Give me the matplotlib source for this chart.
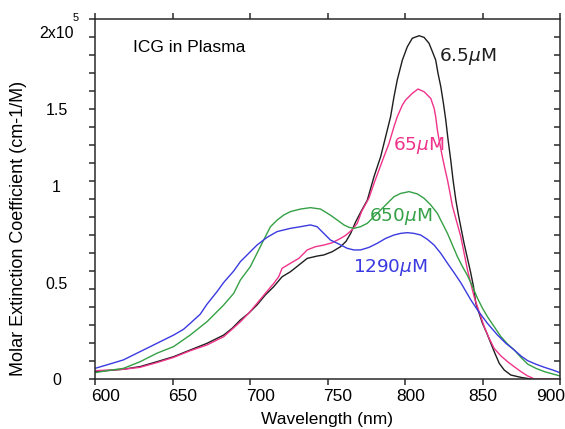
import numpy as np
import matplotlib
matplotlib.use("Agg")
import matplotlib.pyplot as plt

plt.rcParams['font.family'] = ['Liberation Sans', 'DejaVu Sans']

# values, y in units of 1e5 (cm-1/M)
nm_black = [600, 618.3, 629.1, 639.9, 650.7, 661.4, 672.2, 683, 688.4, 693.8, 699.1, 704.5,
            709.9, 715.3, 720.7, 726.1, 731.5, 736.9, 743.3, 747.6, 753, 758.4, 762, 765, 768,
            771, 773.5, 775.7, 780, 784.3, 787.5, 790.7, 792.9, 795, 798.3, 801.5, 804.7, 809.1,
            812.3, 815.5, 817.7, 819.8, 821.3, 823.1, 824.8, 826.3, 827.8, 829.5, 831, 832.8,
            834.5, 838.1, 842.4, 844.2, 845.7, 847.8, 850, 852.8, 855.4, 858, 860.8, 864, 868.3,
            874.8, 881.3]
eps_black = [0.041, 0.054, 0.069, 0.096, 0.124, 0.161, 0.198, 0.244, 0.281, 0.328, 0.365, 0.411,
             0.467, 0.513, 0.568, 0.596, 0.633, 0.670, 0.683, 0.689, 0.707, 0.735, 0.765, 0.810,
             0.870, 0.920, 0.960, 0.994, 1.124, 1.235, 1.346, 1.457, 1.568, 1.661, 1.772, 1.846,
             1.893, 1.907, 1.898, 1.865, 1.818, 1.772, 1.698, 1.624, 1.531, 1.439, 1.328, 1.217,
             1.106, 0.994, 0.910, 0.754, 0.590, 0.513, 0.420, 0.365, 0.309, 0.254, 0.198, 0.143,
             0.087, 0.050, 0.022, 0.009, 0.0]

nm_pink = [600, 618.3, 629.1, 639.9, 650.7, 661.4, 672.2, 683, 688.4, 693.8, 699.1, 704.5, 709.9,
           715.3, 718.5, 720.7, 726.1, 731.5, 736.9, 742.2, 747.6, 753, 758.4, 762, 766, 769.2,
           772, 774.5, 776.7, 780, 783.2, 786.4, 789.7, 792.9, 795, 798.3, 800.4, 804.7, 808.4,
           812.3, 816.6, 818.8, 819.8, 820.9, 822, 824.1, 825.7, 827.4, 828.9, 830.6, 836, 840.3,
           844.6, 847.8, 851.1, 854.3, 857.5, 861.9, 866.2, 870.5, 874.8, 879.1, 881.3, 883.4, 900]
eps_pink = [0.046, 0.054, 0.065, 0.091, 0.120, 0.157, 0.189, 0.235, 0.276, 0.318, 0.365, 0.420,
            0.476, 0.531, 0.568, 0.615, 0.643, 0.670, 0.717, 0.735, 0.744, 0.757, 0.781, 0.800,
            0.830, 0.865, 0.930, 0.970, 1.004, 1.087, 1.161, 1.235, 1.309, 1.402, 1.457, 1.522,
            1.550, 1.587, 1.611, 1.596, 1.559, 1.504, 1.457, 1.383, 1.328, 1.235, 1.170, 1.106,
            1.040, 0.960, 0.791, 0.606, 0.457, 0.374, 0.291, 0.226, 0.170, 0.128, 0.096, 0.068,
            0.041, 0.017, 0.009, 0.0, 0.0]

nm_green = [600, 607.5, 618.3, 629.1, 639.9, 650.7, 661.4, 672.2, 683, 689.5, 693.8, 700.2, 704.5,
            708.8, 713.2, 717.5, 721.8, 726.1, 732.5, 739, 745.5, 751.9, 756.3, 760.6, 763.8,
            767, 771.3, 775.7, 780, 784.3, 788.6, 792.9, 797.2, 802.6, 808, 812.3, 816.6, 820.9,
            824.1, 827.4, 830.6, 833.8, 837.1, 840.3, 843.5, 846.8, 850, 853.2, 857.5, 861.9,
            866.2, 870.5, 874.8, 879.1, 884.5, 889.9, 895.3, 900]
eps_green = [0.035, 0.046, 0.059, 0.096, 0.143, 0.180, 0.244, 0.318, 0.411, 0.476, 0.550, 0.624,
             0.698, 0.772, 0.846, 0.883, 0.911, 0.930, 0.944, 0.952, 0.944, 0.910, 0.883, 0.856,
             0.843, 0.837, 0.846, 0.865, 0.902, 0.939, 0.976, 1.013, 1.031, 1.041, 1.028, 1.004,
             0.967, 0.920, 0.865, 0.809, 0.744, 0.680, 0.624, 0.575, 0.515, 0.448, 0.393, 0.346,
             0.291, 0.235, 0.194, 0.161, 0.120, 0.083, 0.059, 0.041, 0.028, 0.017]

nm_blue = [600, 607.5, 618.3, 629.1, 639.9, 650.7, 657.1, 661.4, 667.9, 672.2, 678.7, 683, 689.5,
           693.8, 700.2, 704.5, 711, 717.5, 726.1, 732.5, 739, 743.3, 747.6, 751.9, 757.3, 762.7,
           767, 771.3, 776.7, 782.1, 787.5, 792.9, 797.2, 801.5, 805.8, 810.1, 814.4, 818.8,
           823.1, 827.4, 831.7, 836, 838.1, 842.5, 846.8, 853.2, 859.7, 865.1, 870.5, 874.8,
           879.1, 884.5, 889.9, 895.3, 900]
eps_blue = [0.059, 0.078, 0.106, 0.152, 0.198, 0.244, 0.276, 0.309, 0.360, 0.415, 0.485, 0.536,
            0.600, 0.652, 0.707, 0.744, 0.787, 0.819, 0.837, 0.846, 0.856, 0.846, 0.809, 0.772,
            0.750, 0.726, 0.717, 0.717, 0.731, 0.754, 0.781, 0.800, 0.809, 0.813, 0.809, 0.800,
            0.776, 0.744, 0.698, 0.643, 0.590, 0.535, 0.504, 0.439, 0.383, 0.309, 0.244, 0.198,
            0.161, 0.128, 0.102, 0.082, 0.065, 0.050, 0.035]

curve_labels = ['6.5$\\mu$M', '65$\\mu$M', '650$\\mu$M', '1290$\\mu$M']
label_xy = [(821.9, 1.794), (792, 1.30), (776.5, 0.902), (766.2, 0.622)]
colors = ['#1e1e1e', '#f0338a', '#35a046', '#3a3ae0']

xticks = [600, 650, 700, 750, 800, 850, 900]
xtick_lab = ['600', '650', '700', '750', '800', '850', '900']
xlab_pos = [606.8, 656.5, 706.5, 756.8, 803.9, 850.3, 893.9]
ytick_pos = [0.0, 0.535, 1.072, 1.498, 1.926]
ytick_lab = ['0', '0.5', '1', '1.5', '2x10']

fig = plt.figure(figsize=(5.65, 4.29), dpi=100)
ax = fig.add_axes([95 / 565, 1 - 379 / 429, 465 / 565, 360 / 429])

series = [(nm_black, eps_black), (nm_pink, eps_pink), (nm_green, eps_green), (nm_blue, eps_blue)]
for (x, y), c in zip(series, colors):
    ax.plot(x, y, color=c, lw=1.0)

for txt, (lx, ly), c in zip(curve_labels, label_xy, colors):
    ax.text(lx, ly, txt, color=c, fontsize=13.3, family='DejaVu Sans', ha='left', va='center')

ax.text(0.082, 0.92, 'ICG in Plasma', transform=ax.transAxes, fontsize=12.5, ha='left', va='center')

ax.set_xlim(600, 900)
ax.set_ylim(0, 2.0)
for s in ax.spines.values():
    s.set_linewidth(1.1)
    s.set_color('#2a2a2a')

# x: tick marks on the minor locator, labels where the picture puts them
ax.xaxis.remove_overlapping_locs = False
ax.set_xticks(xlab_pos)
ax.set_xticklabels(xtick_lab)
ax.set_xticks(xticks, minor=True)
ax.tick_params(axis='x', which='major', length=0, labelsize=12.5, pad=7.5)
ax.tick_params(axis='x', which='minor', direction='out', top=True, bottom=True,
               length=4, width=1.1, color='#2a2a2a')

ax.yaxis.remove_overlapping_locs = False
ax.set_yticks(ytick_pos)
ax.set_yticklabels(ytick_lab)
ax.set_yticks(np.arange(0, 2.01, 0.1), minor=True)
ax.tick_params(axis='y', which='major', length=0, pad=27.7, labelsize=11.5)
ax.tick_params(axis='y', which='minor', direction='out', left=True, right=False,
               length=4, width=1.1, color='#2a2a2a')
for lbl in ax.get_yticklabels():
    lbl.set_horizontalalignment('center')

ax2 = ax.twinx()
ax2.set_ylim(0, 2.0)
ax2.set_yticks(np.arange(0.1, 1.91, 0.1))
ax2.tick_params(axis='y', direction='in', length=4.5, width=1.1, color='#2a2a2a', labelright=False)
for s in ax2.spines.values():
    s.set_visible(False)

fig.text(76 / 565, 1 - 18 / 429, '5', fontsize=8, ha='center', va='center')
fig.text(18.5 / 565, 1 - 228 / 429, 'Molar Extinction Coefficient (cm-1/M)', rotation=90,
         fontsize=13, ha='center', va='center')
fig.text(326.5 / 565, 1 - 424 / 429, 'Wavelength (nm)', fontsize=12.5, ha='center', va='baseline')

fig.savefig('out.png', dpi=100)
